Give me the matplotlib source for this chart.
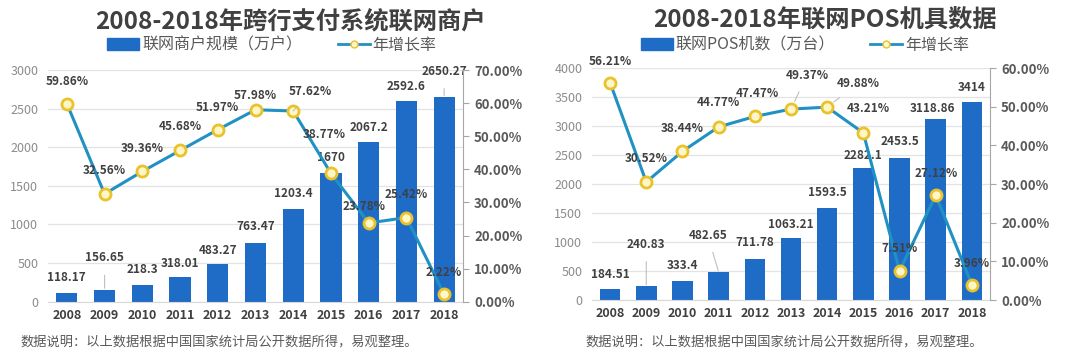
import numpy as np
import matplotlib
matplotlib.use('Agg')
import matplotlib.pyplot as plt
from matplotlib.patches import Patch
from matplotlib.lines import Line2D

plt.rcParams['font.family'] = ['Noto Sans CJK SC', 'DejaVu Sans']

years = ['2008', '2009', '2010', '2011', '2012', '2013', '2014', '2015', '2016', '2017', '2018']

merchants = [118.17, 156.65, 218.3, 318.01, 483.27, 763.47, 1203.4, 1670, 2067.2, 2592.6, 2650.27]
merchant_labels = ['118.17', '156.65', '218.3', '318.01', '483.27', '763.47', '1203.4', '1670',
                   '2067.2', '2592.6', '2650.27']
merchant_growth = [59.86, 32.56, 39.36, 45.68, 51.97, 57.98, 57.62, 38.77, 23.78, 25.42, 2.22]

pos = [184.51, 240.83, 333.4, 482.65, 711.78, 1063.21, 1593.5, 2282.1, 2453.5, 3118.86, 3414]
pos_labels = ['184.51', '240.83', '333.4', '482.65', '711.78', '1063.21', '1593.5', '2282.1',
              '2453.5', '3118.86', '3414']
pos_growth = [56.21, 30.52, 38.44, 44.77, 47.47, 49.37, 49.88, 43.21, 7.51, 27.12, 3.96]

# label offsets in pixels (dx, dy, leader line)
merchant_bar_off = [(0, 15, 0), (0, 32, 1), (0, 15, 0), (0, 14, 0), (0, 14, 0), (0, 16, 0),
                    (0, 15, 0), (0, 15, 0), (0, 15, 0), (0, 15, 0), (0, 26, 1)]
merchant_pct_off = [(0, 22, 0), (0, 23, 0), (0, 23, 0), (0, 24, 0), (0, 22, 0), (0, 14, 0),
                    (17, 19, 1), (-7, 39, 0), (-5, 16, 0), (0, 23, 0), (0, 22, 0)]
pos_bar_off = [(0, 15, 0), (0, 42, 1), (0, 15, 0), (-11, 37, 1), (0, 16, 0), (0, 14, 0),
               (0, 15, 0), (0, 12, 0), (0, 16, 0), (-3, 11, 0), (0, 14, 0)]
pos_pct_off = [(0, 21, 0), (0, 23, 0), (0, 23, 0), (0, 24, 0), (3, 23, 0), (16, 34, 1),
               (31, 24, 1), (5, 24, 0), (0, 22, 0), (0, 22, 0), (0, 21, 0)]

BAR = '#1F6CC7'
LINE = '#2191C3'
TXT = '#404040'
GRAY = '#8c8c8c'


def draw_panel(fig, rect, title, title_x, leg_x, bar_name, vals, vlabels, growth,
               ymax, ystep, pmax, bar_off, pct_off, bar_w):
    ax = fig.add_axes(rect)
    x = np.arange(len(years))
    ax.bar(x, vals, width=bar_w, color=BAR, zorder=2)
    ax.set_xlim(-0.5, len(years) - 0.5)
    ax.set_ylim(0, ymax)
    ax.set_yticks(np.arange(0, ymax + 1, ystep))
    ax.set_xticks(x)
    ax.set_xticklabels(years, fontsize=9, fontweight='bold', color=TXT)
    ax.tick_params(axis='y', length=0, pad=7, labelsize=9, labelcolor=GRAY)
    ax.tick_params(axis='x', length=0, pad=5)
    ax.grid(axis='y', color='#e3e3e3', linewidth=0.9, zorder=0)
    for s in ['left', 'top', 'right']:
        ax.spines[s].set_visible(False)
    ax.spines['bottom'].set_color('#d9d9d9')

    ax2 = ax.twinx()
    ax2.set_ylim(0, pmax)
    ax2.set_yticks(np.arange(0, pmax + 1, 10))
    ax2.set_yticklabels(['%.2f%%' % t for t in np.arange(0, pmax + 1, 10)])
    ax2.tick_params(axis='y', length=4, color='#a6a6a6', pad=4, labelsize=9.5, labelcolor='#595959')
    for lab in ax2.get_yticklabels():
        lab.set_fontweight('bold')
    for s in ['left', 'top', 'bottom']:
        ax2.spines[s].set_visible(False)
    ax2.spines['right'].set_color('#a6a6a6')
    ax2.plot(x, growth, color=LINE, linewidth=2.2, marker='o', markersize=8,
             markerfacecolor='#FFF6C8', markeredgecolor='#E9C22C', markeredgewidth=2, zorder=3)

    for i, v in enumerate(vals):
        dx, dy, lead = bar_off[i]
        ax.annotate(vlabels[i], (x[i], v), xytext=(dx, dy), textcoords='offset pixels',
                    ha='center', va='center', fontsize=8.5, fontweight='bold', color=TXT,
                    arrowprops=dict(arrowstyle='-', color='#bfbfbf', lw=0.8, shrinkA=6, shrinkB=1) if lead else None)
    for i, g in enumerate(growth):
        dx, dy, lead = pct_off[i]
        ax2.annotate('%.2f%%' % g, (x[i], g), xytext=(dx, dy), textcoords='offset pixels',
                     ha='center', va='center', fontsize=8.5, fontweight='bold', color=TXT, zorder=5,
                     arrowprops=dict(arrowstyle='-', color='#bfbfbf', lw=0.8, shrinkA=6, shrinkB=6) if lead else None)

    fig.text(title_x, 1 - 21 / 357, title, ha='center', va='center', fontsize=17.5,
             fontweight='bold', color='#404040')
    handles = [Patch(facecolor=BAR, edgecolor=BAR),
               Line2D([0], [0], color=LINE, linewidth=2, marker='o', markersize=5,
                      markerfacecolor='#FFF6C8', markeredgecolor='#E9C22C')]
    fig.legend(handles, [bar_name, '年增长率'], loc='center', bbox_to_anchor=(leg_x, 1 - 45 / 357),
               ncol=2, frameon=False, fontsize=11.5, labelcolor='#595959', columnspacing=2.2,
               handlelength=2.0, handletextpad=0.2, borderpad=0)
    return ax


fig = plt.figure(figsize=(10.66, 3.57), dpi=100)
W, H = 1066.0, 357.0

draw_panel(fig, [48 / W, 1 - 301.7 / H, 415 / W, 231.7 / H], '2008-2018年跨行支付系统联网商户',
           290 / W, 272 / W, '联网商户规模（万户）', merchants, merchant_labels, merchant_growth,
           3000, 500, 70, merchant_bar_off, merchant_pct_off, 0.56)
draw_panel(fig, [592 / W, 1 - 300 / H, 398 / W, 232 / H], '2008-2018年联网POS机具数据',
           825 / W, 805 / W, '联网POS机数（万台）', pos, pos_labels, pos_growth,
           4000, 500, 60, pos_bar_off, pos_pct_off, 0.57)

note = '数据说明：以上数据根据中国国家统计局公开数据所得，易观整理。'
fig.text(20 / W, 1 - 342 / H, note, ha='left', va='center', fontsize=9.5, color='#595959')
fig.text(585 / W, 1 - 342 / H, note, ha='left', va='center', fontsize=9.5, color='#595959')

fig.savefig('out.png', dpi=100)
